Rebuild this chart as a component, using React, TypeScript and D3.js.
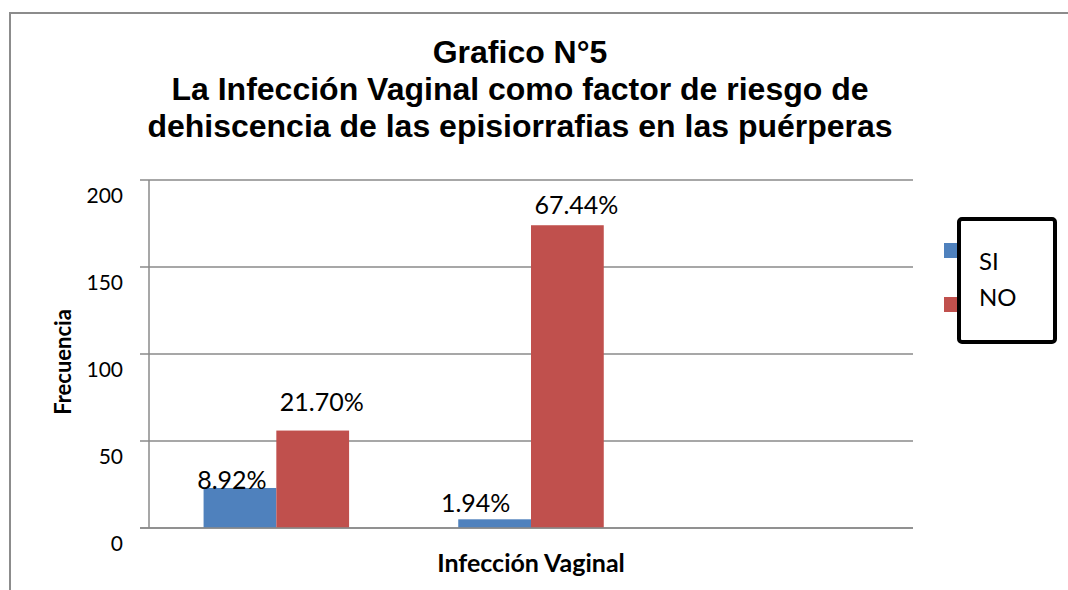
import React, { useEffect, useRef } from "react";
import * as d3 from "d3";

// category slots on the x axis (the original shows no category names)
const categories = ["c1", "c2", "c3"];
const seriesNames = ["SI", "NO"];
const siValues = [23, 5];
const noValues = [56, 174];
const siLabels = ["8.92%", "1.94%"];
const noLabels = ["21.70%", "67.44%"];
const yTicks = [0, 50, 100, 150, 200];
const titleLines = [
  "Grafico N°5",
  "La Infección Vaginal como factor de riesgo de",
  "dehiscencia de las episiorrafias en las puérperas",
];

const colors = ["#4F81BD", "#C0504D"];
const gridColor = "#8a8a8a";
const labelFont = "Lato, 'Open Sans', sans-serif";

// hand placed label offsets, like in the source sheet
const labelNudge = [
  [{ dx: -8, dy: 1 }, { dx: -19, dy: -7 }],
  [{ dx: 9, dy: -20 }, { dx: 9, dy: -11 }],
];

export default function App() {
  const ref = useRef<SVGSVGElement>(null);

  useEffect(() => {
    const width = 1068,
      height = 590;
    const svg = d3.select(ref.current);
    svg.selectAll("*").remove();

    const left = 149,
      right = 913,
      top = 180,
      bottom = 528;

    // outer chart border
    svg
      .append("rect")
      .attr("x", 10)
      .attr("y", 13)
      .attr("width", width)
      .attr("height", height)
      .attr("fill", "#fff")
      .attr("stroke", "#8c8c8c")
      .attr("stroke-width", 2);

    const x0 = d3
      .scaleBand()
      .domain(categories)
      .range([left, right])
      .paddingInner(0.4286)
      .paddingOuter(0.2143);
    const x1 = d3
      .scaleBand()
      .domain(seriesNames)
      .range([0, x0.bandwidth()]);
    const y = d3.scaleLinear().domain([0, 200]).range([bottom, top]);

    // gridlines
    svg
      .append("g")
      .selectAll("line")
      .data(yTicks)
      .enter()
      .append("line")
      .attr("x1", left - 9)
      .attr("x2", right)
      .attr("y1", (d) => y(d))
      .attr("y2", (d) => y(d))
      .attr("stroke", gridColor)
      .attr("stroke-width", 1.5);

    // y axis line
    svg
      .append("line")
      .attr("x1", left)
      .attr("x2", left)
      .attr("y1", top)
      .attr("y2", bottom)
      .attr("stroke", gridColor)
      .attr("stroke-width", 1.5);

    // tick labels (sit a little below their gridline in the original)
    svg
      .append("g")
      .selectAll("text")
      .data(yTicks)
      .enter()
      .append("text")
      .attr("x", 123)
      .attr("y", (d) => y(d) + 23)
      .attr("text-anchor", "end")
      .style("font-family", labelFont)
      .style("font-size", "21px")
      .style("fill", "#000")
      .text((d) => d);

    const series = [siValues, noValues];
    const labels = [siLabels, noLabels];

    series.forEach((vals, si) => {
      const g = svg.append("g");
      g.selectAll("rect")
        .data(vals)
        .enter()
        .append("rect")
        .attr("x", (d, i) => x0(categories[i])! + x1(seriesNames[si])!)
        .attr("y", (d) => y(d))
        .attr("width", x1.bandwidth())
        .attr("height", (d) => y(0) - y(d))
        .attr("fill", colors[si]);

      g.selectAll("text")
        .data(vals)
        .enter()
        .append("text")
        .attr(
          "x",
          (d, i) =>
            x0(categories[i])! +
            x1(seriesNames[si])! +
            x1.bandwidth() / 2 +
            labelNudge[si][i].dx
        )
        .attr("y", (d, i) => y(d) + labelNudge[si][i].dy)
        .attr("text-anchor", "middle")
        .style("font-family", labelFont)
        .style("font-size", "25px")
        .style("fill", "#000")
        .text((d, i) => labels[si][i]);
    });

    // zero line drawn over bars
    svg
      .append("line")
      .attr("x1", left - 9)
      .attr("x2", right)
      .attr("y1", y(0))
      .attr("y2", y(0))
      .attr("stroke", gridColor)
      .attr("stroke-width", 1.5);

    // title
    svg
      .append("text")
      .attr("text-anchor", "middle")
      .style("font-family", "'Liberation Sans', Arial, sans-serif")
      .style("font-weight", "bold")
      .style("font-size", "32px")
      .selectAll("tspan")
      .data(titleLines)
      .enter()
      .append("tspan")
      .attr("x", 520)
      .attr("y", (d, i) => 63 + i * 37)
      .text((d) => d);

    // axis titles
    svg
      .append("text")
      .attr("x", (left + right) / 2)
      .attr("y", 572)
      .attr("text-anchor", "middle")
      .style("font-family", labelFont)
      .style("font-weight", "bold")
      .style("font-size", "25px")
      .text("Infección Vaginal");

    svg
      .append("text")
      .attr("transform", "translate(71,362) rotate(-90)")
      .attr("text-anchor", "middle")
      .style("font-family", labelFont)
      .style("font-weight", "bold")
      .style("font-size", "22px")
      .text("Frecuencia");

    // legend: swatches peek out from under the framed box
    const legend = svg.append("g");
    legend
      .selectAll("rect.sw")
      .data(seriesNames)
      .enter()
      .append("rect")
      .attr("class", "sw")
      .attr("x", 944)
      .attr("y", (d, i) => 243 + i * 54)
      .attr("width", 16)
      .attr("height", 15)
      .attr("fill", (d, i) => colors[i]);
    legend
      .append("rect")
      .attr("x", 959)
      .attr("y", 219)
      .attr("width", 96)
      .attr("height", 123)
      .attr("rx", 3)
      .attr("fill", "#fff")
      .attr("stroke", "#000")
      .attr("stroke-width", 4);
    legend
      .selectAll("text")
      .data(seriesNames)
      .enter()
      .append("text")
      .attr("x", 979)
      .attr("y", (d, i) => 270 + i * 36)
      .style("font-family", labelFont)
      .style("font-size", "24px")
      .text((d) => d);
  }, []);

  return (
    <svg
      ref={ref}
      width={1068}
      height={590}
      style={{ position: "absolute", left: 0, top: 0, background: "#fff" }}
    />
  );
}
